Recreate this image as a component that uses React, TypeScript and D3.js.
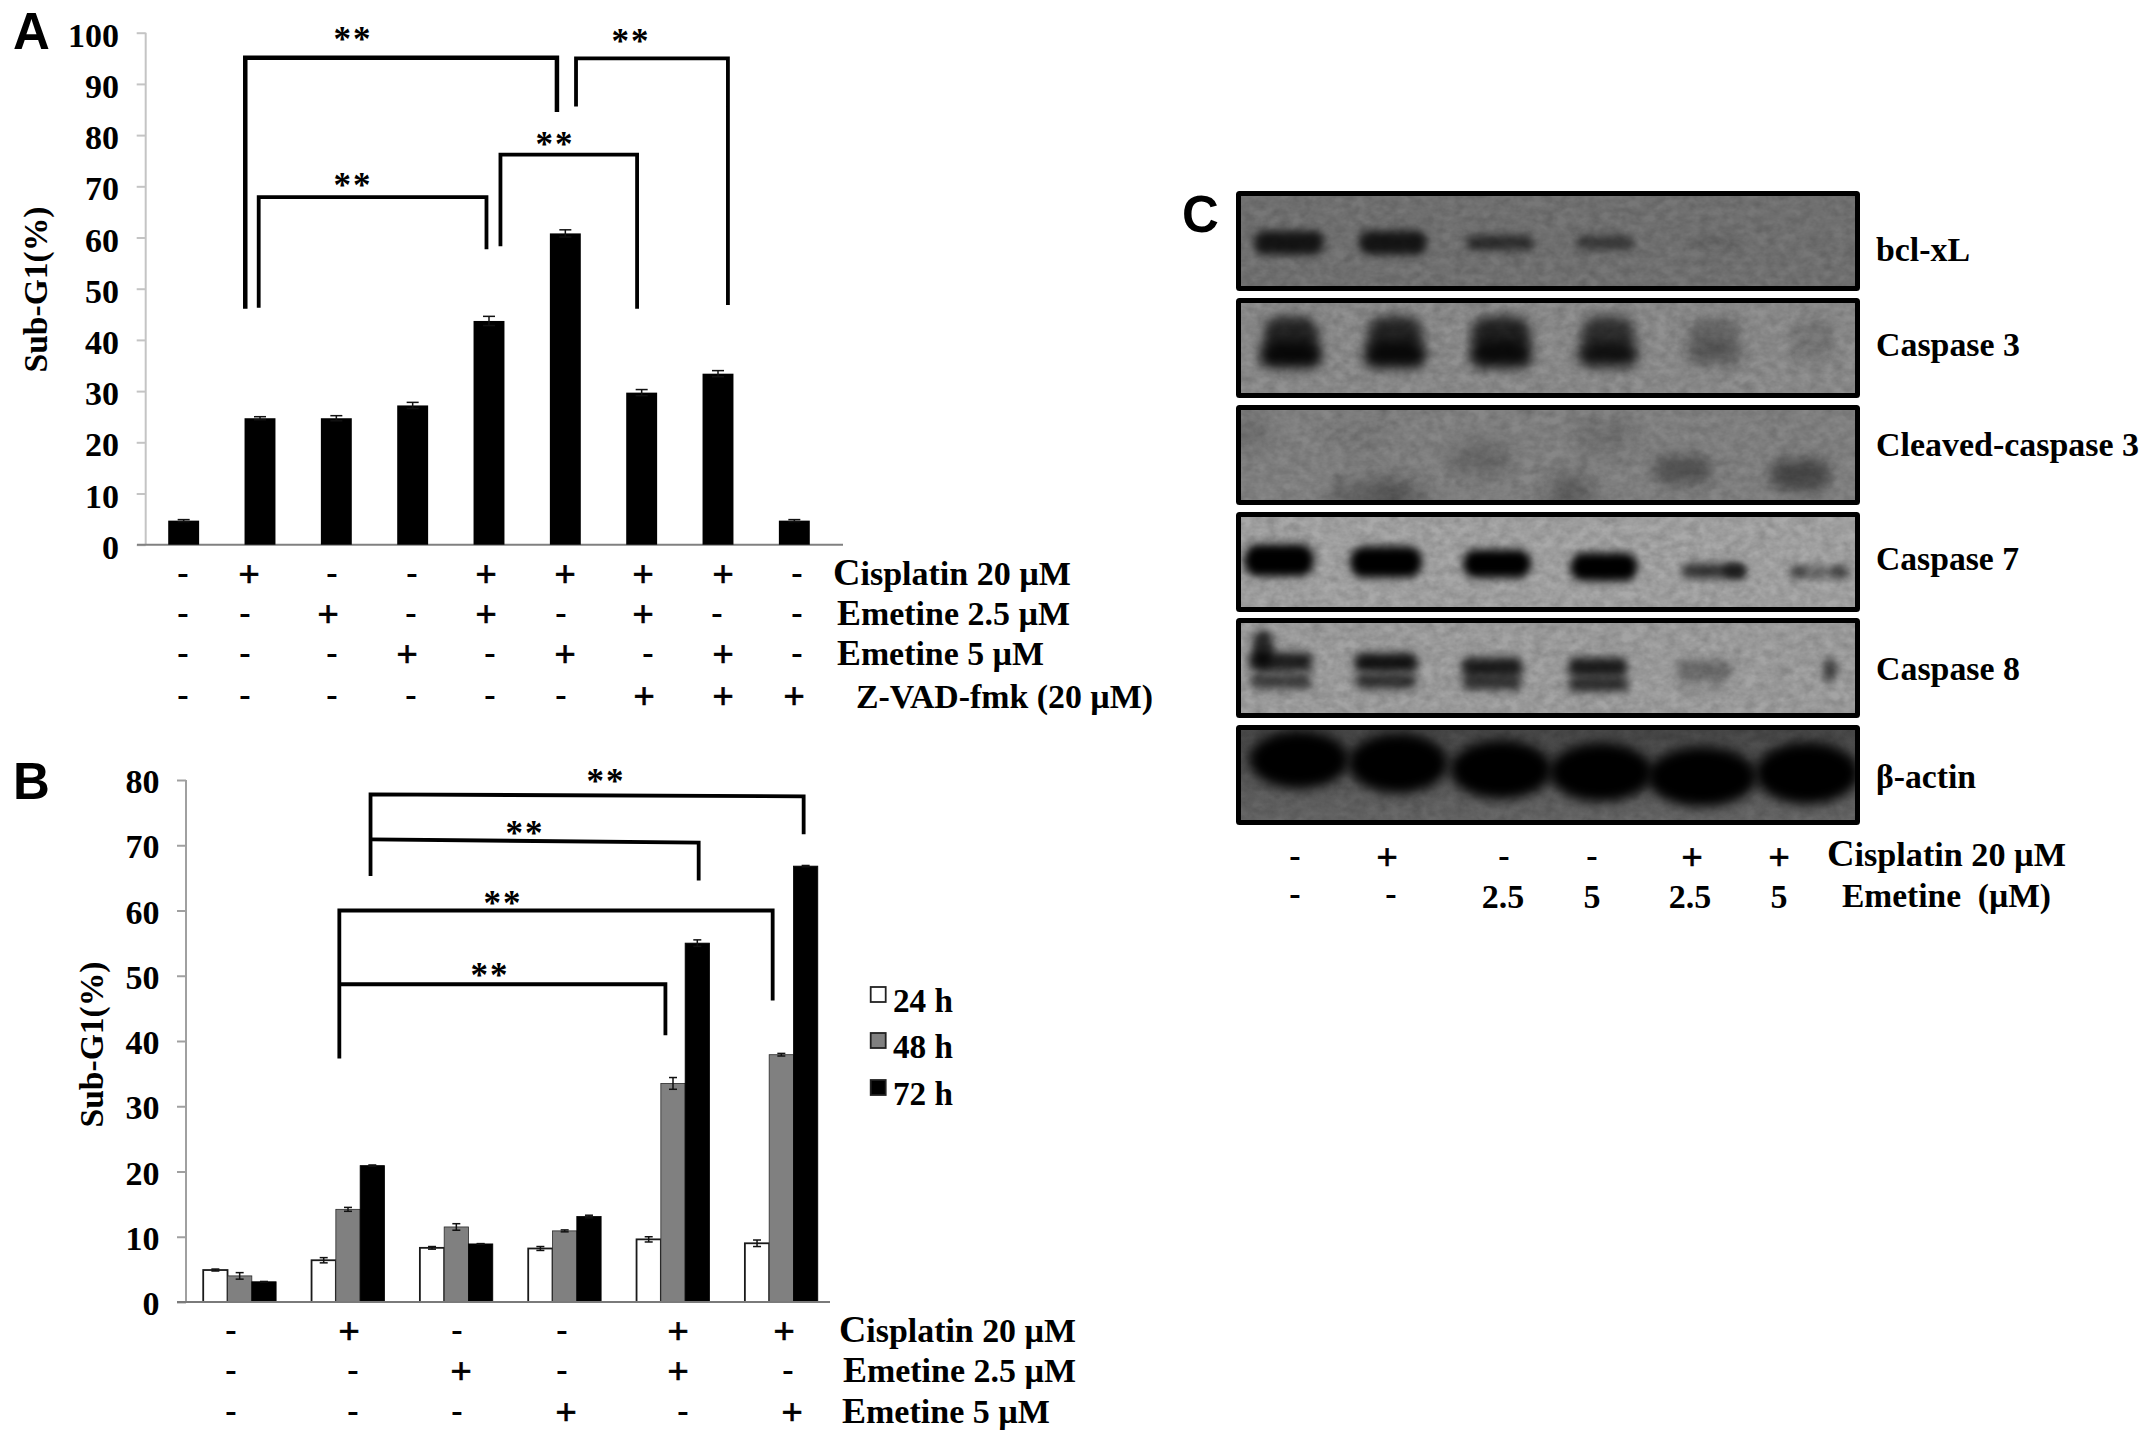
import React, { useEffect, useRef } from "react";
import * as d3 from "d3";

// ---------- Panel A data
const aValues = [4.7, 24.7, 24.7, 27.2, 43.7, 60.8, 29.7, 33.4, 4.7];
const aErrors = [0.2, 0.3, 0.5, 0.6, 0.9, 0.7, 0.6, 0.6, 0.2];
const aTicks = [0, 10, 20, 30, 40, 50, 60, 70, 80, 90, 100];
const aSigns = ["-+--++++-", "--+-+-+--", "---+-+-+-", "------+++"];
const aRowLabels = ["Cisplatin 20 µM", "Emetine 2.5 µM", "Emetine 5 µM", "Z-VAD-fmk (20 µM)"];

// ---------- Panel B data
const bSeriesNames = ["24 h", "48 h", "72 h"];
const b24 = [4.9, 6.4, 8.3, 8.2, 9.6, 9.0];
const b48 = [4.0, 14.2, 11.5, 10.9, 33.5, 37.9];
const b72 = [3.1, 20.9, 8.9, 13.1, 55.0, 66.8];
const b24Err = [0.15, 0.4, 0.2, 0.3, 0.4, 0.5];
const b48Err = [0.5, 0.3, 0.5, 0.15, 0.9, 0.2];
const b72Err = [0.05, 0.1, 0.05, 0.2, 0.5, 0.1];
const bTicks = [0, 10, 20, 30, 40, 50, 60, 70, 80];
const bSigns = ["-+--++", "--+-+-", "---+-+"];
const bRowLabels = ["Cisplatin 20 µM", "Emetine 2.5 µM", "Emetine 5 µM"];

// ---------- Panel C data
const cBlotNames = ["bcl-xL", "Caspase 3", "Cleaved-caspase 3", "Caspase 7", "Caspase 8", "β-actin"];
const cRow1 = ["-", "+", "-", "-", "+", "+"];
const cRow2 = ["-", "-", "2.5", "5", "2.5", "5"];
const bclxL = [0.82, 0.82, 0.62, 0.52, 0.14, 0.04];
const casp3Low = [0.92, 0.9, 0.88, 0.82, 0.28, 0.08];
const casp3Up = [0.74, 0.74, 0.76, 0.66, 0.28, 0.14];
const casp7 = [1, 1, 1, 1, 0.68, 0.4];
const casp8Up = [0.8, 0.88, 0.82, 0.82, 0.33, 0.04];
const casp8Low = [0.62, 0.7, 0.68, 0.72, 0.1, 0.02];
const actin = [1, 1, 1, 1, 1, 1];

// ---------- Layout
const W = 2150, H = 1443;
const serif = "'Liberation Serif','Times New Roman',serif";
const sans = "'Liberation Sans',Arial,sans-serif";

const ya = d3.scaleLinear().domain([0, 100]).range([544.7, 32.7]);
const xa = d3.scaleBand<number>().domain(d3.range(9)).range([145.5, 832.5]).paddingInner(0.595).paddingOuter(0.2975);
const xaC = (i: number) => (xa(0) as number) + xa.bandwidth() / 2 + i * xa.step();

const yb = d3.scaleLinear().domain([0, 80]).range([1302, 780]);
const xb = d3.scaleBand<number>().domain(d3.range(6)).range([185.5, 835.5]).paddingInner(0);
const xbC = (i: number) => (xb(0) as number) + xb.bandwidth() / 2 + i * xb.step();
const bBarW = 24.3;

type Br = { x0: number; x1: number; top0: number; top1: number; end0: number; end1: number };
const aBrackets: Br[] = [
  { x0: 0.807, x1: 4.89, top0: 95.1, top1: 95.1, end0: 46.1, end1: 84.5 },
  { x0: 5.14, x1: 7.13, top0: 95.0, top1: 95.0, end0: 85.6, end1: 46.8 },
  { x0: 4.15, x1: 5.94, top0: 76.2, top1: 76.2, end0: 58.3, end1: 46.1 },
  { x0: 0.983, x1: 3.967, top0: 67.9, top1: 67.9, end0: 46.3, end1: 57.7 },
];
const aStars: [number, number][] = [[353, 35], [631, 37], [555, 139.5], [353, 181]];
const bBrackets: Br[] = [
  { x0: 1.208, x1: 5.206, top0: 77.8, top1: 77.5, end0: 65.3, end1: 71.7 },
  { x0: 1.208, x1: 4.237, top0: 70.9, top1: 70.4, end0: 70.9, end1: 64.6 },
  { x0: 0.92, x1: 4.92, top0: 60, top1: 60, end0: 37.3, end1: 46.2 },
  { x0: 0.92, x1: 3.93, top0: 48.7, top1: 48.7, end0: 48.7, end1: 40.9 },
];
const bStars: [number, number][] = [[606, 777], [525, 829], [503, 899], [490, 971]];

const aSignX = [
  [183, 249, 332, 412, 486, 565, 643, 723, 797],
  [183, 245, 328, 411, 486, 561, 643, 717, 797],
  [183, 245, 332, 407, 490, 565, 648, 723, 797],
  [183, 245, 332, 411, 490, 561, 644, 723, 794],
];
const aSignY = [576, 616, 656, 698];
const aLabelLayout = [[833, 585, 238], [837, 625, 233], [837, 665, 207], [856, 708, 297]];
const bSignX = [
  [231, 349, 457, 562, 678, 784],
  [231, 353, 461, 562, 678, 788],
  [231, 353, 457, 566, 683, 792],
];
const bSignY = [1333, 1373, 1414];
const bLabelLayout = [[839, 1342, 237], [843, 1382, 233], [842, 1423, 208]];
const legendY = [987, 1033, 1080];
const legendBase = [1012, 1058, 1105];
const bFills = ["#ffffff", "#808080", "#000000"];

// Panel C layout
const blotX0 = 1241, blotX1 = 1855;
const blotTop = [196, 303, 410, 517, 623, 730];
const blotH = 90;
const blotBg = ["#777777", "#919191", "#878787", "#a9a9a9", "#a4a4a4", "#5e5e5e"];
const cLabelLayout = [[1876, 261, 94], [1876, 356, 144], [1876, 456, 263], [1876, 570, 143], [1876, 680, 144], [1876, 788, 100]];
const cSignX1 = [1295, 1387, 1504, 1592, 1692, 1779];
const cSignX2 = [1295, 1391, 1503, 1592, 1690, 1779];

type Band = { blot: number; x: number; yf: number; w: number; h: number; v: number; blur: number };
const bands: Band[] = [];
const pushRow = (blot: number, xs: number[], yf: number | number[], w: number | number[], h: number | number[], vs: number[], blur = 4) =>
  xs.forEach((x, i) => bands.push({
    blot, x,
    yf: Array.isArray(yf) ? yf[i] : yf,
    w: Array.isArray(w) ? w[i] : w,
    h: Array.isArray(h) ? h[i] : h,
    v: vs[i], blur,
  }));
pushRow(0, [1289, 1393, 1500, 1605, 1714, 1820], 0.52, [70, 68, 68, 58, 50, 40], [24, 24, 15, 14, 10, 8], bclxL, 4);
pushRow(1, [1291, 1395, 1501, 1608, 1714, 1813], 0.36, [56, 56, 60, 54, 52, 46], [38, 38, 38, 38, 34, 30], casp3Up, 6);
pushRow(1, [1291, 1395, 1501, 1608, 1714, 1813], 0.58, [62, 63, 62, 60, 56, 46], [26, 26, 26, 24, 22, 20], casp3Low, 6);
pushRow(2, [1683, 1800], [0.67, 0.72], [58, 60], [28, 32], [0.36, 0.45], 7);
pushRow(2, [1250, 1370, 1480, 1570, 1605, 1360, 1570, 1400], [0.25, 0.95, 0.55, 0.85, 0.3, 0.3, 0.95, 0.95], [40, 80, 60, 30, 60, 60, 50, 60], 30, [0.16, 0.24, 0.22, 0.14, 0.14, 0.08, 0.22, 0.18], 10);
pushRow(3, [1279, 1386, 1497, 1604], [0.48, 0.5, 0.52, 0.555], [70, 72, 68, 67], [32, 31, 28, 28], casp7, 4);
pushRow(3, [1714, 1820], [0.6, 0.61], [64, 58], [15, 12], casp7.slice(4), 4);
pushRow(3, [1735, 1840, 1797], [0.6, 0.61, 0.61], [22, 16, 16], [15, 12, 12], [0.5, 0.3, 0.3], 3);
pushRow(4, [1281, 1386, 1492, 1598, 1704, 1780], [0.43, 0.44, 0.49, 0.49, 0.52, 0.52], [64, 64, 62, 60, 56, 20], 19, casp8Up, 4);
pushRow(4, [1281, 1386, 1492, 1598, 1704, 1780], [0.65, 0.65, 0.66, 0.68, 0.7, 0.7], [62, 62, 60, 60, 50, 20], 15, casp8Low, 4);
pushRow(4, [1263, 1830], [0.28, 0.52], [22, 14], [38, 24], [0.75, 0.62], 4);
pushRow(5, [1299, 1398, 1501, 1601, 1702, 1807], [0.33, 0.37, 0.44, 0.47, 0.52, 0.48], [100, 100, 102, 104, 110, 104], [58, 60, 59, 59, 60, 62], actin, 6);

const blurLevels = [3, 4, 6, 7, 10];
const opacity = d3.scaleLinear().domain([0, 1]).range([0, 1]);
const yBlotFrac = (blot: number) => d3.scaleLinear().domain([0, 1]).range([blotTop[blot], blotTop[blot] + blotH]);

function T(p: any) {
  const { children, len, size = 34, ...rest } = p;
  return (
    <text fontFamily={serif} fontWeight={700} fontSize={size} fill="#000"
      {...(len ? { textLength: len, lengthAdjust: "spacingAndGlyphs" } : {})} {...rest}>
      {children}
    </text>
  );
}

// Row label with the enlarged initial capital of the source figure
function Label({ x, y, len, text }: any) {
  const big = text[0] === "C" ? 38 : text[0] === "E" ? 36 : 34;
  return (
    <T x={x} y={y} len={len} size={34}>
      <tspan fontSize={big}>{text[0]}</tspan>
      {text.slice(1)}
    </T>
  );
}

// Sign placed by its visual centre: + and - sit at different heights in the font
function Sign({ x, cy, s }: any) {
  return s === "+"
    ? <T x={x} y={cy + 11} textAnchor="middle" size={38} stroke="#000" strokeWidth={0.6}>{s}</T>
    : <T x={x} y={cy + 8} textAnchor="middle" size={34}>{s}</T>;
}

function AxisY({ scale, ticks, x, color }: { scale: any; ticks: number[]; x: number; color: string }) {
  const ref = useRef<SVGGElement>(null);
  useEffect(() => {
    const g = d3.select(ref.current as SVGGElement);
    g.call(d3.axisLeft(scale).tickValues(ticks).tickSize(9).tickPadding(0).tickFormat(() => "") as any);
    g.selectAll("path,line").attr("stroke", color).attr("stroke-width", 2);
    g.select("path.domain").attr("d", `M0,${scale.range()[1]}V${scale.range()[0]}`);
  }, []);
  return <g ref={ref} transform={`translate(${x},0)`} />;
}

function Bracket({ b, xf, y, sw }: { b: Br; xf: (i: number) => number; y: any; sw: number }) {
  const line = d3.line<[number, number]>().x((d) => xf(d[0])).y((d) => y(d[1]));
  return (
    <path
      d={line([[b.x0, b.end0], [b.x0, b.top0], [b.x1, b.top1], [b.x1, b.end1]]) as string}
      fill="none" stroke="#000" strokeWidth={sw} strokeLinejoin="miter"
    />
  );
}

function Err({ x, y, v, e, cap, color = "#111" }: any) {
  return (
    <g stroke={color} strokeWidth={1.5} fill="none">
      <line x1={x} x2={x} y1={y(v + e)} y2={y(Math.max(v - e, 0))} />
      <line x1={x - cap} x2={x + cap} y1={y(v + e)} y2={y(v + e)} />
      <line x1={x - cap} x2={x + cap} y1={y(v - e)} y2={y(v - e)} />
    </g>
  );
}

function Stars({ x, y }: { x: number; y: number }) {
  return <T x={x} y={y + 16} textAnchor="middle" size={35} letterSpacing={2}>**</T>;
}

export default function App() {
  const bSeries = [b24, b48, b72];
  const bErrs = [b24Err, b48Err, b72Err];
  return (
    <svg width={W} height={H} viewBox={`0 0 ${W} ${H}`}
      style={{ position: "absolute", left: 0, top: 0, background: "#fff", display: "block" }}>
      <defs>
        {blurLevels.map((s) => (
          <filter key={s} id={`blur${s}`} x="-60%" y="-120%" width="220%" height="340%">
            <feGaussianBlur stdDeviation={s} />
          </filter>
        ))}
        <filter id="grain" x="0" y="0" width="100%" height="100%">
          <feTurbulence type="fractalNoise" baseFrequency="0.09 0.12" numOctaves={3} seed={4} />
          <feColorMatrix values="0 0 0 0 0  0 0 0 0 0  0 0 0 0 0  0.6 0.6 0 0 -0.38" />
        </filter>
        <linearGradient id="actinBg" x1="0" y1="0" x2="0" y2="1">
          <stop offset="0" stopColor="#4a4a4a" />
          <stop offset="1" stopColor="#6a6a6a" />
        </linearGradient>
        {blotTop.map((t, i) => (
          <clipPath key={i} id={`clip${i}`}>
            <rect x={blotX0} y={t} width={blotX1 - blotX0} height={blotH} />
          </clipPath>
        ))}
      </defs>

      {/* Panel A */}
      <text x={13} y={49} fontFamily={sans} fontWeight={700} fontSize={51}>A</text>
      <AxisY scale={ya} ticks={aTicks} x={145.7} color="#c4c4c4" />
      <line x1={137} x2={843} y1={ya(0)} y2={ya(0)} stroke="#808080" strokeWidth={2} />
      {aTicks.map((t) => (
        <T key={t} x={119} y={ya(t) + 14} textAnchor="end">{t}</T>
      ))}
      <T transform={`translate(47,${(207 + 372) / 2}) rotate(-90)`} textAnchor="middle" size={34} len={166}>Sub-G1(%)</T>
      {aValues.map((v, i) => (
        <g key={i}>
          <rect x={xa(i)} y={ya(v)} width={xa.bandwidth()} height={ya(0) - ya(v)} fill="#000" />
          <Err x={xaC(i)} y={ya} v={v} e={aErrors[i]} cap={6} />
        </g>
      ))}
      {aBrackets.map((b, i) => <Bracket key={i} b={b} xf={xaC} y={ya} sw={i === 0 ? 4.5 : 3.8} />)}
      {aStars.map(([x, y], i) => <Stars key={i} x={x} y={y} />)}
      {aSigns.map((row, r) =>
        row.split("").map((s, c) => <Sign key={`${r}${c}`} x={aSignX[r][c]} cy={aSignY[r]} s={s} />)
      )}
      {aRowLabels.map((l, i) => (
        <Label key={l} x={aLabelLayout[i][0]} y={aLabelLayout[i][1]} len={aLabelLayout[i][2]} text={l} />
      ))}

      {/* Panel B */}
      <text x={13} y={799} fontFamily={sans} fontWeight={700} fontSize={51}>B</text>
      <AxisY scale={yb} ticks={bTicks} x={186} color="#a0a0a0" />
      {bTicks.map((t) => (
        <T key={t} x={159.5} y={yb(t) + 13} textAnchor="end">{t}</T>
      ))}
      <T transform={`translate(103,${(961 + 1128) / 2}) rotate(-90)`} textAnchor="middle" size={34} len={166}>Sub-G1(%)</T>
      {b24.map((_, g) =>
        bSeries.map((s, k) => {
          const x = xbC(g) + (k - 1.5) * bBarW;
          return (
            <g key={`${g}${k}`}>
              <rect x={x} y={yb(s[g])} width={bBarW} height={yb(0) - yb(s[g])} fill={bFills[k]}
                stroke={k === 0 ? "#1a1a1a" : k === 1 ? "#2a2a2a" : "#000"} strokeWidth={k === 0 ? 1.8 : 0.8} />
              <Err x={x + bBarW / 2} y={yb} v={s[g]} e={bErrs[k][g]} cap={4} />
            </g>
          );
        })
      )}
      <line x1={177} x2={830} y1={yb(0)} y2={yb(0)} stroke="#7a7a7a" strokeWidth={2} />
      {bBrackets.map((b, i) => <Bracket key={i} b={b} xf={xbC} y={yb} sw={3.8} />)}
      {bStars.map(([x, y], i) => <Stars key={i} x={x} y={y} />)}
      {bSigns.map((row, r) =>
        row.split("").map((s, c) => <Sign key={`${r}${c}`} x={bSignX[r][c]} cy={bSignY[r]} s={s} />)
      )}
      {bRowLabels.map((l, i) => (
        <Label key={l} x={bLabelLayout[i][0]} y={bLabelLayout[i][1]} len={bLabelLayout[i][2]} text={l} />
      ))}
      {bSeriesNames.map((n, i) => (
        <g key={n}>
          <rect x={870.7} y={legendY[i]} width={15} height={15} fill={bFills[i]} stroke="#222" strokeWidth={1.8} />
          <T x={893} y={legendBase[i]} size={34} len={60}>{n}</T>
        </g>
      ))}

      {/* Panel C */}
      <text x={1182} y={232} fontFamily={sans} fontWeight={700} fontSize={51}>C</text>
      {blotTop.map((t, i) => {
        const yf = yBlotFrac(i);
        return (
          <g key={i}>
            <g clipPath={`url(#clip${i})`}>
              <rect x={blotX0} y={t} width={blotX1 - blotX0} height={blotH} fill={i === 5 ? "url(#actinBg)" : blotBg[i]} />
              <rect x={blotX0} y={t} width={blotX1 - blotX0} height={blotH} filter="url(#grain)" opacity={0.3} />
              {bands.filter((b) => b.blot === i).map((b, j) => (
                <rect key={j} x={b.x - b.w / 2} y={yf(b.yf) - b.h / 2} width={b.w} height={b.h}
                  rx={i === 5 ? b.w / 2 : b.h / 2.4} ry={b.h / 2}
                  fill="#050505" opacity={opacity(b.v)} filter={`url(#blur${b.blur})`} />
              ))}
            </g>
            <rect x={blotX0 - 2.5} y={t - 2.5} width={blotX1 - blotX0 + 5} height={blotH + 5}
              fill="none" stroke="#000" strokeWidth={5} rx={1} />
          </g>
        );
      })}
      {cBlotNames.map((n, i) => (
        <T key={n} x={cLabelLayout[i][0]} y={cLabelLayout[i][1]} len={cLabelLayout[i][2]} size={34}>{n}</T>
      ))}
      {cRow1.map((s, i) => <Sign key={i} x={cSignX1[i]} cy={859} s={s} />)}
      {cRow2.map((s, i) =>
        s === "-"
          ? <Sign key={i} x={cSignX2[i]} cy={897} s={s} />
          : <T key={i} x={cSignX2[i]} y={908} textAnchor="middle">{s}</T>
      )}
      <Label x={1827} y={866} len={239} text="Cisplatin 20 µM" />
      <T x={1842} y={907} len={209} size={34} xmlSpace="preserve">Emetine  (µM)</T>
    </svg>
  );
}
